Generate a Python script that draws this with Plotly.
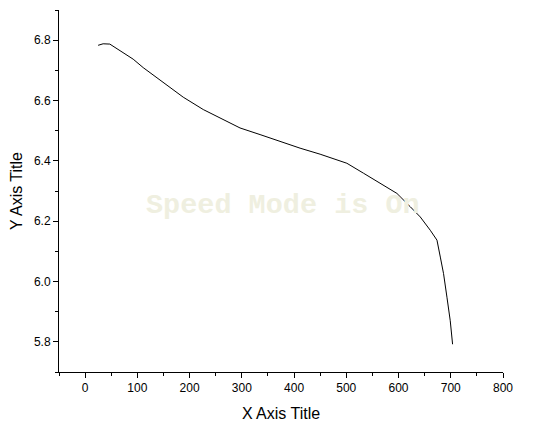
import plotly.graph_objects as go

# Data
x_vals = [24.9, 34.5, 47.3, 53.7, 72.8, 92.0, 111.2, 136.9, 162.4, 187.8,
          226.2, 258.2, 296.5, 334.9, 373.2, 411.5, 449.9, 481.9, 501.1, 532.9,
          564.9, 596.9, 622.4, 641.6, 660.7, 673.6, 680.0, 686.2, 692.7, 699.0, 703.5]
y_vals = [6.783, 6.788, 6.787, 6.780, 6.759, 6.737, 6.709, 6.676, 6.642, 6.611,
          6.570, 6.542, 6.509, 6.487, 6.464, 6.442, 6.422, 6.403, 6.392, 6.359,
          6.326, 6.292, 6.248, 6.214, 6.170, 6.137, 6.081, 6.026, 5.948, 5.870, 5.792]

x_ticks = [0, 100, 200, 300, 400, 500, 600, 700, 800]
y_ticks = [5.8, 6.0, 6.2, 6.4, 6.6, 6.8]
y_tick_labels = ["5.8", "6.0", "6.2", "6.4", "6.6", "6.8"]

fig = go.Figure()
fig.add_trace(go.Scatter(x=x_vals, y=y_vals, mode="lines",
                         line=dict(color="black", width=1), showlegend=False))

axis_common = dict(
    showgrid=False, zeroline=False, showline=True, linecolor="black", linewidth=1,
    ticks="outside", ticklen=5, tickwidth=1, tickcolor="black",
    tickfont=dict(family="Liberation Sans, Arial", size=12, color="black"),
    mirror=False, automargin=False,
)

fig.update_layout(
    width=527, height=422,
    margin=dict(l=51, r=32, t=2, b=58),
    paper_bgcolor="white", plot_bgcolor="white",
    font=dict(family="Liberation Sans, Arial", color="black"),
    xaxis=dict(range=[-50, 800], tickvals=x_ticks,
               minor=dict(dtick=50, tick0=0, ticklen=3, ticks="outside", tickcolor="black"),
               title=dict(text="X Axis Title", font=dict(size=16), standoff=13),
               **axis_common),
    yaxis=dict(range=[5.7, 6.9], tickvals=y_ticks, ticktext=y_tick_labels,
               minor=dict(dtick=0.1, tick0=5.7, ticklen=3, ticks="outside", tickcolor="black"),
               title=dict(text="Y Axis Title", font=dict(size=16), standoff=12),
               **axis_common),
    annotations=[dict(text="<b>Speed Mode is On</b>", xref="paper", yref="paper",
                      x=0.505, y=0.461, showarrow=False,
                      font=dict(family="Liberation Mono, Courier New, monospace",
                                size=28.5, color="#efefe0"))],
)

fig.write_html("out.html")
